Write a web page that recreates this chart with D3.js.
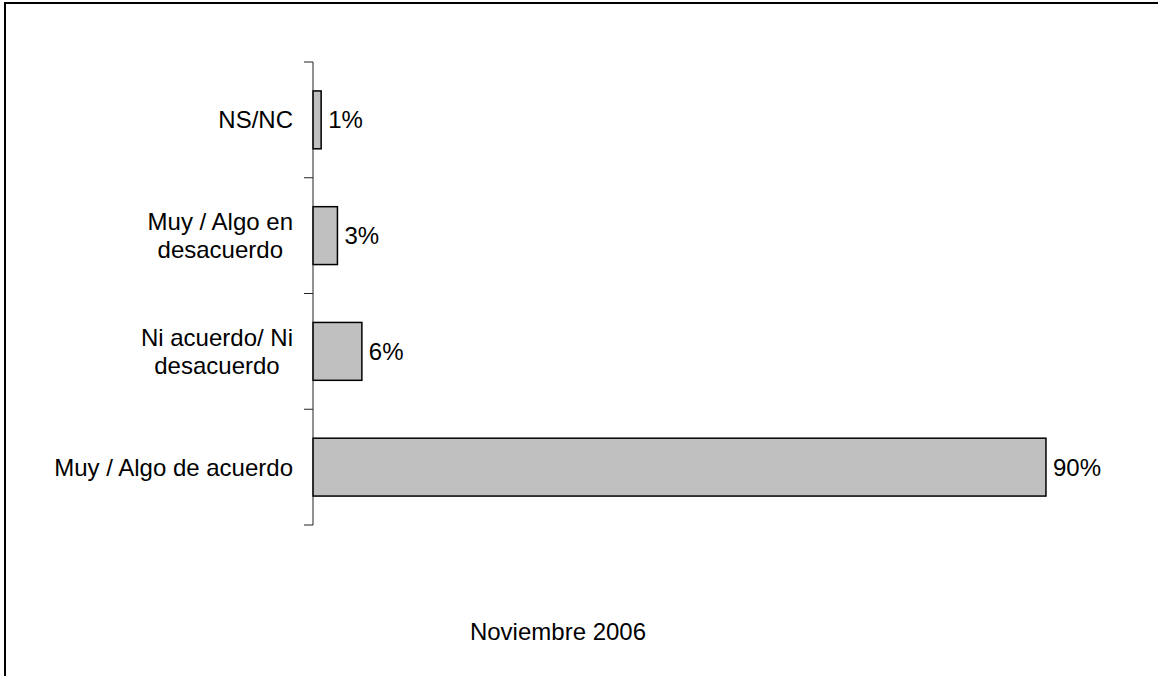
<!DOCTYPE html>
<html>
<head>
<meta charset="utf-8">
<script src="https://cdn.jsdelivr.net/npm/d3@7"></script>
<style>
  html, body { margin: 0; padding: 0; background: #fff; }
  svg { display: block; font-family: "Liberation Sans", Arial, sans-serif; }
</style>
</head>
<body>
<svg id="chart" width="1158" height="676"></svg>
<script>
// Survey answers, top to bottom
const categories = ["NS/NC", "Muy / Algo en desacuerdo", "Ni acuerdo/ Ni desacuerdo", "Muy / Algo de acuerdo"];
const categoryLines = [["NS/NC"], ["Muy / Algo en", "desacuerdo"], ["Ni acuerdo/ Ni", "desacuerdo"], ["Muy / Algo de acuerdo"]];
const values = [1, 3, 6, 90];
const valueLabels = ["1%", "3%", "6%", "90%"];
const seriesName = "Noviembre 2006";

const svg = d3.select("#chart");
const W = 1158, H = 676;

// Outer frame
svg.append("rect")
  .attr("x", 5).attr("y", 3)
  .attr("width", W + 10).attr("height", H + 10)
  .attr("fill", "#fff")
  .attr("stroke", "#000")
  .attr("stroke-width", 2);

const axisX = 313;
const plotTop = 62, plotBottom = 525;

const x = d3.scaleLinear().domain([0, 100]).range([axisX, axisX + 814.4]);
const y = d3.scaleBand().domain(categories).range([plotTop, plotBottom]).paddingInner(0.5).paddingOuter(0.25);

// Bars
svg.append("g").selectAll("rect")
  .data(categories)
  .join("rect")
  .attr("x", x(0))
  .attr("y", d => y(d))
  .attr("width", (d, i) => x(values[i]) - x(0))
  .attr("height", y.bandwidth())
  .attr("fill", "#c0c0c0")
  .attr("stroke", "#000")
  .attr("stroke-width", 1.5);

// Category axis with ticks between categories
const step = (plotBottom - plotTop) / categories.length;
const axisG = svg.append("g").attr("stroke", "#222").attr("stroke-width", 1);
axisG.append("line")
  .attr("x1", axisX).attr("x2", axisX)
  .attr("y1", plotTop).attr("y2", plotBottom);
axisG.selectAll("line.tick")
  .data(d3.range(categories.length + 1))
  .join("line")
  .attr("class", "tick")
  .attr("x1", axisX - 9).attr("x2", axisX)
  .attr("y1", i => plotTop + i * step)
  .attr("y2", i => plotTop + i * step);

// Category labels, centered block whose right edge sits left of the axis
const lineGap = 28;
const labelRight = 293;
categories.forEach((c, i) => {
  const lines = categoryLines[i];
  const cy = y(c) + y.bandwidth() / 2;
  const t = svg.append("text")
    .attr("font-size", 24)
    .attr("fill", "#000")
    .attr("text-anchor", "middle");
  lines.forEach((ln, k) => {
    t.append("tspan")
      .attr("y", cy + (k - (lines.length - 1) / 2) * lineGap)
      .attr("dy", "0.35em")
      .text(ln);
  });
  let maxW = 0;
  t.selectAll("tspan").each(function () {
    maxW = Math.max(maxW, this.getComputedTextLength());
  });
  t.selectAll("tspan").attr("x", labelRight - maxW / 2);
});

// Value labels
svg.append("g").selectAll("text")
  .data(categories)
  .join("text")
  .attr("x", (d, i) => x(values[i]) + 7)
  .attr("y", d => y(d) + y.bandwidth() / 2)
  .attr("dy", "0.35em")
  .attr("font-size", 24)
  .attr("fill", "#000")
  .text((d, i) => valueLabels[i]);

// Series caption
svg.append("text")
  .attr("x", 558).attr("y", 640)
  .attr("text-anchor", "middle")
  .attr("font-size", 24)
  .attr("fill", "#000")
  .text(seriesName);
</script>
</body>
</html>
